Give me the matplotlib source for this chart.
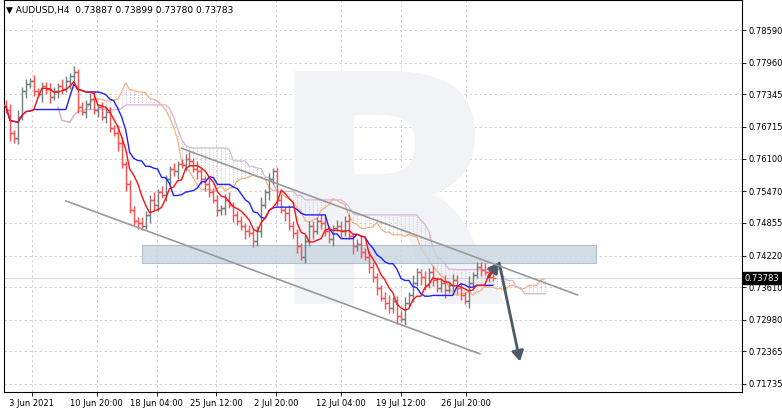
import matplotlib
matplotlib.use("Agg")
import matplotlib.pyplot as plt
import numpy as np
from matplotlib.patches import Rectangle

closes = [7704,7660,7650,7690,7740,7755,7760,7740,7735,7750,7745,7730,7740,7750,7745,
          7760,7770,7778,7710,7700,7715,7725,7705,7710,7690,7700,7670,7660,7640,7600,
          7560,7510,7490,7485,7480,7500,7530,7520,7545,7540,7570,7590,7585,7600,7598,
          7610,7605,7590,7585,7570,7560,7545,7530,7510,7515,7530,7520,7500,7490,7480,
          7470,7465,7450,7470,7520,7545,7570,7585,7530,7510,7505,7480,7465,7440,7420,
          7450,7480,7470,7490,7485,7470,7455,7475,7480,7470,7490,7460,7440,7445,7430,
          7420,7400,7380,7360,7340,7330,7320,7335,7305,7300,7330,7345,7370,7390,7380,
          7365,7390,7375,7360,7370,7355,7365,7375,7360,7345,7335,7370,7385,7400,7395,
          7390,7380,7378]
wick_up = "3425332423343253242334523432542332433524324233425324332452332433524234253324332453243342352433245233425324342352433242334232"
wick_dn = "2534243325342432534243352432534234325342433524325343243524335243425342533424352433524325342435243352434253243352443253242321"

yticks = [0.78590,0.77960,0.77345,0.76715,0.76100,0.75470,0.74855,0.74220,0.73610,0.72980,0.72365,0.71735]
xtick_pos = [6.5,22.75,37.75,52.75,67.75,84,99,115.25]
xtick_labels = ["3 Jun 2021","10 Jun 20:00","18 Jun 04:00","25 Jun 12:00","2 Jul 20:00","12 Jul 04:00","19 Jul 12:00","26 Jul 20:00"]
title = "AUDUSD,H4  0.73887 0.73899 0.73780 0.73783"
last_price = 0.73783

c = np.array(closes)/1e4
n = len(c)
o = np.concatenate([[c[0]+0.0010], c[:-1]])
hi = np.maximum(o, c) + np.array([int(ch) for ch in wick_up[:n]])*0.0003
lo = np.minimum(o, c) - np.array([int(ch) for ch in wick_dn[:n]])*0.0003
idx = np.arange(n)

def mid(p):
    out = np.full(n, np.nan)
    for i in range(n):
        s = max(0, i-p+1)
        out[i] = (hi[s:i+1].max()+lo[s:i+1].min())/2
    return out
tenkan = mid(5); kijun = mid(13); sb = mid(26)
sa = (tenkan+kijun)/2
shift = 13

fig = plt.figure(figsize=(7.82,4.08), dpi=100)
ax = fig.add_axes([4/782, 16/408, 738/782, 392/408])
ax.set_xlim(-0.5, 184.5)
ax.set_ylim(0.71580, 0.79171)
for y in yticks:
    ax.axhline(y, color="#cccccc", ls=(0,(3,3)), lw=0.6, zorder=0)
for x in xtick_pos:
    ax.axvline(x, color="#cccccc", ls=(0,(3,3)), lw=0.6, zorder=0)
ax.text(0.52, 0.45, "R", transform=ax.transAxes, fontsize=230, color="#f1f3f6",
        ha="center", va="center", fontweight="bold", zorder=0)

xs = idx+shift
for i in range(n):
    a, b = sa[i], sb[i]
    ax.vlines(xs[i], min(a,b), max(a,b), color="#d9c4dc", lw=0.8, ls=(0,(1,1.2)), zorder=1)
ax.plot(xs, sa, color="#f4b183", lw=0.9, zorder=2)
ax.plot(xs, sb, color="#d5b6d8", lw=0.9, zorder=2)

ax.add_patch(Rectangle((34, 0.7407), 114, 0.0036, facecolor="#c9d5e0", edgecolor="#9fb6cc",
                       alpha=0.8, lw=0.8, zorder=2))

for i in range(n):
    col = "#6f7f7f" if c[i] >= o[i] else "#ff5050"
    ax.vlines(i, lo[i], hi[i], color=col, lw=1.0, zorder=3)
    ax.hlines(o[i], i-0.8, i, color=col, lw=1.0, zorder=3)
    ax.hlines(c[i], i, i+0.8, color=col, lw=1.0, zorder=3)
ax.plot(idx, kijun, color="#2020ff", lw=1.0, zorder=4)
ax.plot(idx, tenkan, color="#ff1010", lw=1.0, zorder=4)

ax.plot([44, 143.25], [0.7630, 0.7346], color="#999999", lw=1.2, zorder=5)
ax.plot([15, 118.75], [0.7528, 0.7232], color="#999999", lw=1.2, zorder=5)
ax.axhline(last_price, color="#d0d0d0", lw=0.6, zorder=1)
ax.annotate("", xy=(124, 0.7413), xytext=(120.5, 0.7376),
            arrowprops=dict(arrowstyle="-|>,head_width=0.35,head_length=0.6", color="#4a5a66", lw=2))
ax.annotate("", xy=(129, 0.7212), xytext=(123.5, 0.7413),
            arrowprops=dict(arrowstyle="-|>,head_width=0.35,head_length=0.6", color="#4a5a66", lw=2))

ax.yaxis.tick_right()
ax.set_yticks(yticks)
ax.set_yticklabels([f"{v:.5f}" for v in yticks], fontsize=6)
ax.set_xticks(xtick_pos)
ax.set_xticklabels(xtick_labels, fontsize=6)
ax.tick_params(length=3, width=0.6, pad=2)
for s in ax.spines.values():
    s.set_linewidth(0.8)
ax.text(1.003, last_price, f"{last_price:.5f}", transform=ax.get_yaxis_transform(),
        fontsize=6, color="white", va="center", ha="left",
        bbox=dict(boxstyle="square,pad=0.2", fc="black", ec="black"), zorder=10, clip_on=False)
ax.text(0.003, 0.985, "\u25BC " + title, transform=ax.transAxes, fontsize=6.5, va="top", ha="left")
fig.savefig("out.png", dpi=100)
